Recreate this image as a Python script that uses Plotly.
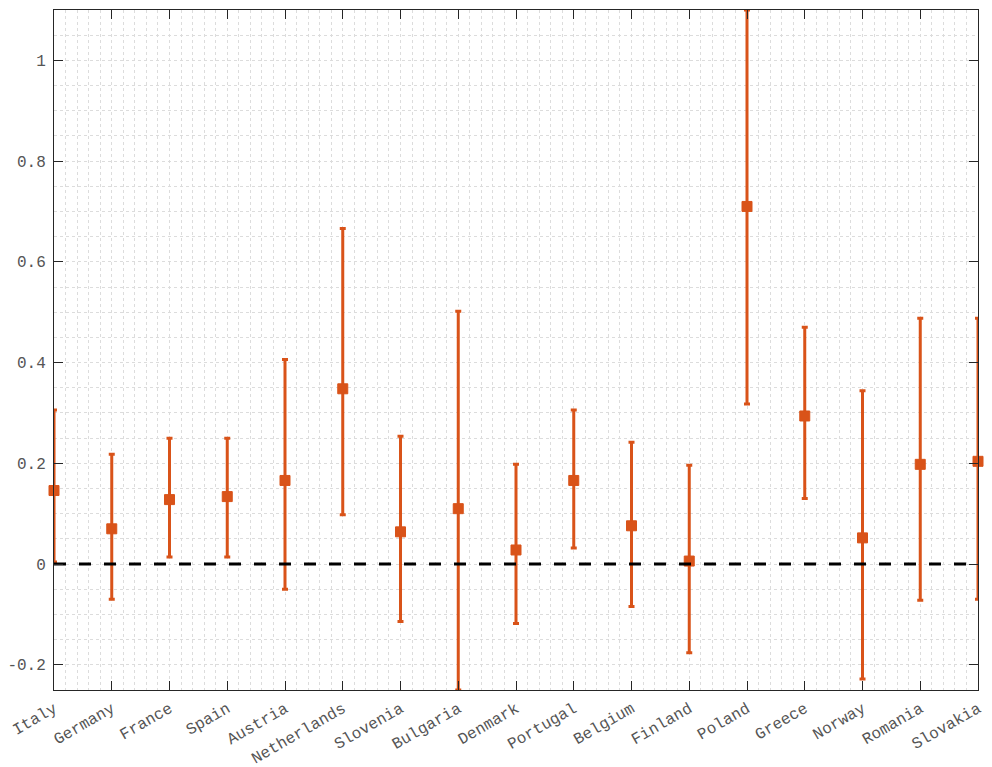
import plotly.graph_objects as go

countries = ["Italy", "Germany", "France", "Spain", "Austria", "Netherlands",
             "Slovenia", "Bulgaria", "Denmark", "Portugal", "Belgium", "Finland",
             "Poland", "Greece", "Norway", "Romania", "Slovakia"]
estimate = [0.146, 0.070, 0.128, 0.134, 0.166, 0.348, 0.064, 0.110, 0.028,
            0.166, 0.076, 0.006, 0.710, 0.294, 0.052, 0.198, 0.204]
upper = [0.306, 0.218, 0.250, 0.250, 0.406, 0.666, 0.254, 0.502, 0.198,
         0.306, 0.242, 0.196, 1.100, 0.470, 0.344, 0.488, 0.488]
lower = [0.004, -0.070, 0.014, 0.014, -0.050, 0.098, -0.114, -0.250, -0.118,
         0.032, -0.084, -0.176, 0.318, 0.130, -0.228, -0.072, -0.070]
y_ticks = [-0.2, 0, 0.2, 0.4, 0.6, 0.8, 1]
y_tick_text = ["-0.2", "0", "0.2", "0.4", "0.6", "0.8", "1"]

positions = list(range(1, len(countries) + 1))
err_plus = [u - e for u, e in zip(upper, estimate)]
err_minus = [e - l for e, l in zip(estimate, lower)]

orange = "#D95319"
axis_col = "#262626"
grid_col = "#dcdcdc"
font = dict(family="Liberation Mono, Courier New, monospace", size=16, color="#555555")

fig = go.Figure()
fig.add_trace(go.Scatter(
    x=positions, y=estimate, mode="markers",
    marker=dict(symbol="square", size=10, color=orange, line=dict(color=orange, width=1)),
    error_y=dict(type="data", symmetric=False, array=err_plus, arrayminus=err_minus,
                 color=orange, thickness=3, width=3),
    cliponaxis=False, showlegend=False,
))
fig.add_trace(go.Scatter(
    x=[positions[0], positions[-1]], y=[0, 0], mode="lines",
    line=dict(color="black", width=3, dash="12px,13px"),
    showlegend=False, hoverinfo="skip",
))

fig.update_layout(
    width=992, height=767,
    margin=dict(l=54, r=14, t=10, b=77),
    paper_bgcolor="white", plot_bgcolor="white",
    font=font,
)
fig.update_xaxes(
    range=[1, 17], tickvals=positions, ticktext=countries, tickangle=-30,
    showline=True, linecolor=axis_col, linewidth=1, mirror="ticks",
    ticks="inside", ticklen=9, tickcolor=axis_col,
    showgrid=True, gridcolor=grid_col, griddash="dot", gridwidth=1,
    minor=dict(dtick=0.2, tick0=1, showgrid=True, gridcolor=grid_col, griddash="dot", ticks=""),
    zeroline=False, automargin=False, ticklabelstandoff=2,
)
fig.update_yaxes(
    range=[-0.25, 1.1], tickvals=y_ticks, ticktext=y_tick_text,
    showline=True, linecolor=axis_col, linewidth=1, mirror="ticks",
    ticks="inside", ticklen=9, tickcolor=axis_col,
    showgrid=True, gridcolor=grid_col, griddash="dot", gridwidth=1,
    minor=dict(dtick=0.05, tick0=0, showgrid=True, gridcolor=grid_col, griddash="dot", ticks=""),
    zeroline=False, automargin=False, ticklabelstandoff=4,
)

fig.write_html("out.html")
